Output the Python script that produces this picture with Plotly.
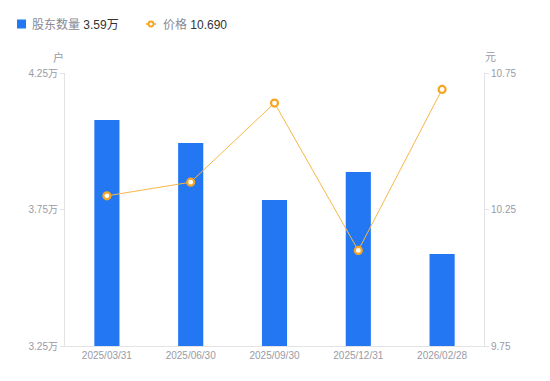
import plotly.graph_objects as go

categories = ["2025/03/31", "2025/06/30", "2025/09/30", "2025/12/31", "2026/02/28"]
holders = [4.078, 3.994, 3.785, 3.887, 3.587]   # 万户
price = [10.30, 10.35, 10.64, 10.10, 10.69]     # 元
left_ticks = [3.25, 3.75, 4.25]
left_tick_text = ["3.25万", "3.75万", "4.25万"]
right_ticks = [9.75, 10.25, 10.75]
right_tick_text = ["9.75", "10.25", "10.75"]
legend_names = ["股东数量", "价格"]
legend_values = ["3.59万", "10.690"]

FONT = "Liberation Sans, Arial, Noto Sans CJK SC, sans-serif"
CJK = "Liberation Sans, Noto Sans CJK SC, sans-serif"
AXC = "#e3e3e6"
TXC = "#9a9aa6"
BLUE = "#2477f3"
ORANGE = "#f5a623"

fig = go.Figure()
fig.add_trace(go.Bar(
    x=categories, y=holders, name=legend_names[0],
    marker=dict(color=BLUE, line=dict(width=0)), width=0.3, yaxis="y",
))
fig.add_trace(go.Scatter(
    x=categories, y=price, name=legend_names[1],
    mode="lines+markers", yaxis="y2",
    line=dict(color="#f7b84a", width=1),
    marker=dict(size=7, color="white", line=dict(color=ORANGE, width=2.2)),
))

# body has 8px default margin -> compensate
W, H = 542, 373
fig.update_layout(
    width=W, height=H,
    margin=dict(l=57, r=66, t=65, b=35, autoexpand=False),
    paper_bgcolor="white", plot_bgcolor="white",
    font=dict(family=FONT, size=10, color=TXC),
    showlegend=False,
    xaxis=dict(showline=True, linecolor=AXC, linewidth=1, showgrid=False,
               ticks="", tickfont=dict(size=10, color=TXC), zeroline=False),
    yaxis=dict(range=[3.25, 4.25], tickvals=left_ticks, ticktext=left_tick_text,
               showline=True, linecolor=AXC, linewidth=1, showgrid=False, zeroline=False,
               ticks="outside", ticklen=4, tickcolor=AXC, tickfont=dict(size=10, color=TXC)),
    yaxis2=dict(range=[9.75, 10.75], tickvals=right_ticks, ticktext=right_tick_text,
                overlaying="y", side="right",
                showline=True, linecolor=AXC, linewidth=1, showgrid=False, zeroline=False,
                ticks="outside", ticklen=4, tickcolor=AXC, tickfont=dict(size=10, color=TXC)),
)

ann = [
    dict(text="户", xref="paper", yref="paper", x=0, y=1, xshift=-7, yshift=16,
         xanchor="center", yanchor="middle",
         showarrow=False, font=dict(size=11, color=TXC, family=CJK)),
    dict(text="元", xref="paper", yref="paper", x=1, y=1, xshift=6, yshift=16,
         xanchor="center", yanchor="middle",
         showarrow=False, font=dict(size=11, color=TXC, family=CJK)),
]
# custom legend (pixel offsets from plot top-left)
LY = 49  # pixels above plot top
ann += [
    dict(text=f"{legend_names[0]} <span style='color:#333'>{legend_values[0]}</span>",
         xref="paper", yref="paper", x=0, y=1, xshift=-35, yshift=LY,
         xanchor="left", yanchor="middle", showarrow=False,
         font=dict(size=12, color="#8a8a96", family=CJK)),
    dict(text=f"{legend_names[1]} <span style='color:#333'>{legend_values[1]}</span>",
         xref="paper", yref="paper", x=0, y=1, xshift=96, yshift=LY,
         xanchor="left", yanchor="middle", showarrow=False,
         font=dict(size=12, color="#8a8a96", family=CJK)),
]
fig.update_layout(annotations=ann)

shapes = [
    dict(type="rect", xref="paper", yref="paper", xsizemode="pixel", ysizemode="pixel",
         xanchor=0, yanchor=1, x0=-48, x1=-39, y0=LY - 4.5, y1=LY + 4.5,
         fillcolor=BLUE, line=dict(width=0)),
    dict(type="line", xref="paper", yref="paper", xsizemode="pixel", ysizemode="pixel",
         xanchor=0, yanchor=1, x0=81, x1=91, y0=LY, y1=LY,
         line=dict(color=ORANGE, width=1.5)),
    dict(type="circle", xref="paper", yref="paper", xsizemode="pixel", ysizemode="pixel",
         xanchor=0, yanchor=1, x0=83.5, x1=88.5, y0=LY - 2.5, y1=LY + 2.5,
         fillcolor="white", line=dict(color=ORANGE, width=1.8)),
]
fig.update_layout(shapes=shapes)

fig.write_html("out.html")
